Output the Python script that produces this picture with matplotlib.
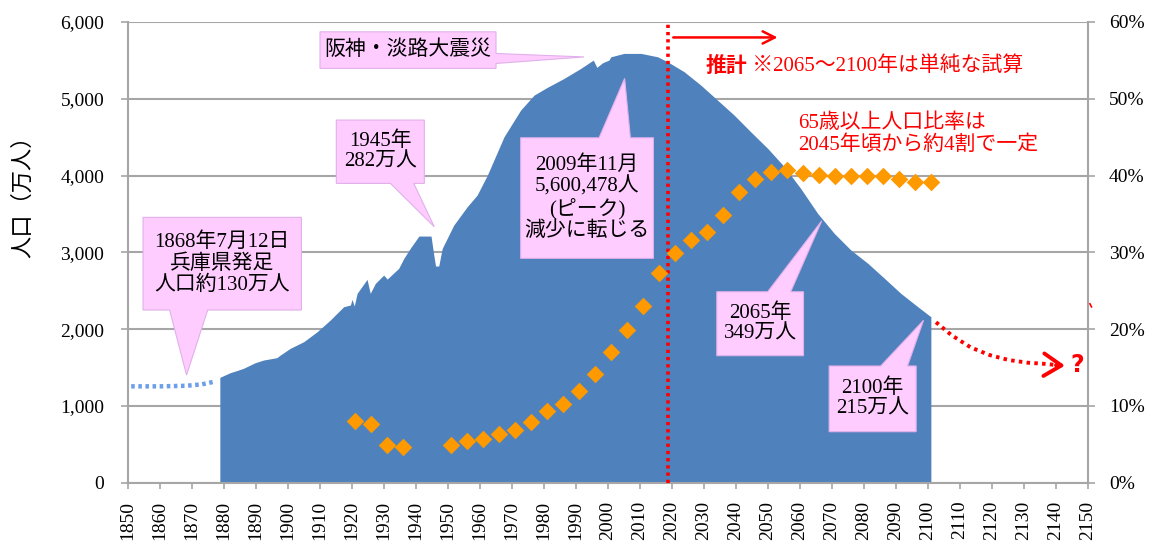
import matplotlib
matplotlib.use("Agg")
import matplotlib.pyplot as plt
from matplotlib.patches import Polygon
from matplotlib.ticker import FuncFormatter, MultipleLocator

plt.rcParams["font.family"] = ["Liberation Serif", "Noto Sans CJK JP"]

# population (万人)
pop_years = [1878.7, 1881.9, 1884.0, 1886.1, 1889.7, 1892.4, 1896.5, 1897.6,
             1900.7, 1904.9, 1909.1, 1913.2, 1917.4, 1919.5, 1920.0, 1920.7,
             1921.6, 1924.7, 1925.7, 1927.3, 1929.9, 1931.0, 1934.6, 1936.2,
             1938.2, 1940.9, 1944.7, 1945.4, 1946.1, 1947.1, 1948.2, 1951.8,
             1956.0, 1959.1, 1962.3, 1967.5, 1972.7, 1976.9, 1981.0, 1986.3,
             1991.5, 1995.4, 1996.5, 1998.3, 2000.3, 2000.9, 2005.0, 2010.3,
             2015.5, 2018.6, 2023.8, 2029.0, 2034.2, 2039.4, 2044.6, 2049.9,
             2055.1, 2060.2, 2065.5, 2070.7, 2075.9, 2081.2, 2086.4, 2091.5,
             2096.8, 2100.9]
pop = [1372, 1432, 1460, 1490, 1562, 1598, 1628, 1663,
       1750, 1836, 1966, 2118, 2292, 2314, 2388, 2301,
       2466, 2648, 2466, 2596, 2704, 2652, 2792, 2922,
       3052, 3212, 3212, 3008, 2822, 2822, 3052, 3355,
       3594, 3746, 4006, 4505, 4853, 5048, 5148, 5266,
       5396, 5504, 5409, 5469, 5504, 5547, 5591, 5591,
       5547, 5482, 5352, 5178, 4983, 4788, 4570, 4354,
       4115, 3833, 3508, 3247, 3030, 2857, 2661, 2466,
       2292, 2161]

# before the prefecture's records (dotted)
pre_years = [1851, 1860, 1868, 1873, 1877.5]
pre_pop = [1255, 1255, 1262, 1280, 1320]

# share of people aged 65+ (%)
ratio_years = [1920, 1925, 1930, 1935, 1950, 1955, 1960, 1965, 1970, 1975,
               1980, 1985, 1990, 1995, 2000, 2005, 2010, 2015, 2020, 2025,
               2030, 2035, 2040, 2045, 2050, 2055, 2060, 2065, 2070, 2075,
               2080, 2085, 2090, 2095, 2100]
ratio = [8.0, 7.6, 4.9, 4.6, 4.9, 5.4, 5.7, 6.3, 6.8, 7.9,
         9.3, 10.2, 12.0, 14.1, 17.0, 19.9, 23.0, 27.3, 29.9, 31.6,
         32.7, 34.9, 37.9, 39.6, 40.5, 40.7, 40.3, 40.1, 39.9, 39.9,
         39.9, 39.9, 39.5, 39.1, 39.1]

BLUE = "#4F81BD"
ORANGE = "#FF9900"
PINK = "#FFCCFF"
GRID = "#A6A6A6"
RED = "#FF0000"

fig = plt.figure(figsize=(11.52, 5.41), dpi=100)
ax = fig.add_axes([128 / 1152, 58.3 / 541, 960 / 1152, 460.7 / 541])
ax.set_xlim(1850, 2150)
ax.set_ylim(0, 6000)

ax.fill_between(pop_years, pop, 0, color=BLUE, lw=0, zorder=2)
ax.plot(pre_years, pre_pop, color="#6D9EEB", lw=3.2, ls=(0, (0.8, 0.8)),
        zorder=2)

ax.yaxis.set_major_locator(MultipleLocator(1000))
ax.yaxis.set_major_formatter(FuncFormatter(lambda v, p: f"{v:,.0f}"))
ax.xaxis.set_major_locator(MultipleLocator(10))
ax.grid(axis="y", color=GRID, lw=1.5, zorder=0)
ax.set_axisbelow(True)
for s in ("left", "right", "bottom"):
    ax.spines[s].set_color(GRID)
    ax.spines[s].set_linewidth(1.5)
ax.spines["top"].set_visible(False)
ax.tick_params(axis="x", direction="out", length=4, width=1.2, color=GRID,
               labelsize=14, pad=9, labelrotation=90)
ax.tick_params(axis="y", direction="out", length=5, width=1.2, color=GRID,
               labelsize=14, pad=12)

ax2 = ax.twinx()
ax2.set_ylim(0, 60)
ax2.yaxis.set_major_locator(MultipleLocator(10))
ax2.yaxis.set_major_formatter(FuncFormatter(lambda v, p: f"{v:.0f}%"))
ax2.tick_params(axis="y", direction="out", length=5, width=1.2, color=GRID,
                labelsize=14, pad=10)
for s in ax2.spines.values():
    s.set_visible(False)
ax2.scatter([y + 1 for y in ratio_years], ratio, marker="D", s=80,
            color=ORANGE, lw=0, zorder=4)

fig.text(23 / 1152, 1 - 191 / 541, "人口（万人）", rotation=90, ha="center",
         va="center", fontsize=16, family="Noto Sans CJK JP")

T = ax.transData


def callout(x0, x1, y0, y1, side, b0, b1, tip, text):
    if side == "top":
        pts = [(x0, y0), (x1, y0), (x1, y1), (b1, y1), tip, (b0, y1), (x0, y1)]
    elif side == "bottom":
        pts = [(x0, y1), (x1, y1), (x1, y0), (b1, y0), tip, (b0, y0), (x0, y0)]
    else:
        pts = [(x0, y0), (x1, y0), (x1, b0), tip, (x1, b1), (x1, y1), (x0, y1)]
    ax2.add_patch(Polygon(pts, closed=True, facecolor=PINK,
                          edgecolor="#E0B0EA", lw=0.8, transform=T, zorder=5))
    ax2.text((x0 + x1) / 2, (y0 + y1) / 2, text, transform=T, ha="center",
             va="center", fontsize=15, linespacing=1.12, zorder=6)


callout(1910.0, 1965.0, 5396, 5872, "right", 5460, 5590, (1992.5, 5545),
        "阪神・淡路大震災")
callout(1915.1, 1942.6, 3898, 4723, "bottom", 1932.0, 1939.3, (1945.7, 3333),
        "1945年\n282万人")
callout(1854.7, 1904.2, 2249, 3456, "bottom", 1863.0, 1874.9, (1868.3, 1402),
        "1868年7月12日\n兵庫県発足\n人口約130万人")
callout(1972.7, 2014.2, 2922, 4492, "top", 1997.2, 2007.0, (2005.2, 5266),
        "2009年11月\n5,600,478人\n(ピーク)\n減少に転じる")
callout(2034.0, 2061.1, 1654, 2487, "top", 2049.9, 2057.1, (2066.8, 3411),
        "2065年\n349万人")
callout(2069.1, 2096.3, 664, 1520, "top", 2085.2, 2093.6, (2098.6, 2115),
        "2100年\n215万人")

# estimate boundary and notes
ax2.plot([2018.7, 2018.7], [0, 6000], transform=T, color=RED, lw=2.6,
         ls=(0, (0.9, 1.1)), zorder=3)
ax2.annotate("", xy=(2053, 5799), xytext=(2020.4, 5799), xycoords=T,
             textcoords=T, arrowprops=dict(arrowstyle="->", color=RED, lw=1.8,
                                           mutation_scale=22, shrinkA=0,
                                           shrinkB=0))
t1 = ax2.text(2030.5, 5430, "推計", transform=T, ha="left", va="center",
              fontsize=15, color=RED, fontweight="bold",
              family="Noto Sans CJK JP", zorder=6)
ax2.annotate(" ※2065～2100年は単純な試算", xy=(1, 0.5), xycoords=t1,
             ha="left", va="center", fontsize=15, color=RED, zorder=6)
ax2.text(2059.3, 4540, "65歳以上人口比率は\n2045年頃から約4割で一定",
         transform=T, ha="left", va="center", fontsize=15, color=RED,
         linespacing=1.12, zorder=6)

curve_x = [2102.5, 2107.3, 2113.3, 2119.2, 2125.2, 2131.1, 2137.1, 2140.5]
curve_y = [2090, 1923, 1763, 1663, 1598, 1563, 1546, 1530]
ax2.plot(curve_x, curve_y, transform=T, color=RED, lw=2.8,
         ls=(0, (0.9, 1.1)), zorder=3, clip_on=False)
ax2.annotate("", xy=(2142.8, 1525), xytext=(2140.0, 1530), xycoords=T,
             textcoords=T, annotation_clip=False,
             arrowprops=dict(arrowstyle="->,head_length=0.7,head_width=0.45",
                             color=RED, lw=2.8, mutation_scale=18,
                             shrinkA=0, shrinkB=0))
ax2.text(2146.7, 1533, "?", transform=T, ha="center", va="center",
         fontsize=17, color=RED, fontweight="bold", family="DejaVu Sans",
         zorder=6)
ax2.plot([2150.6, 2151.1], [2330, 2290], transform=T, color=RED, lw=1.2,
         clip_on=False)

fig.savefig("out.png", dpi=100)
